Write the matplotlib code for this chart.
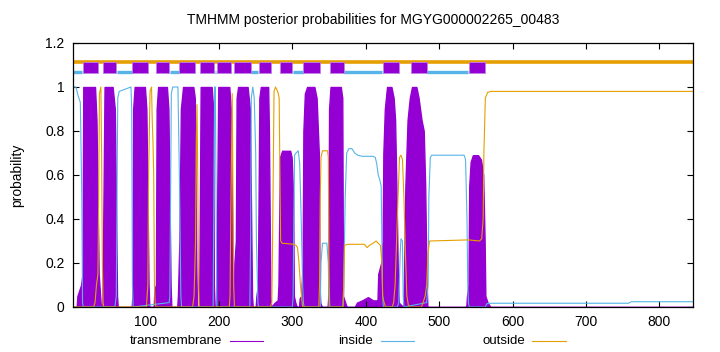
import matplotlib
matplotlib.use("Agg")
import matplotlib.pyplot as plt
from matplotlib.lines import Line2D

plt.rcParams['font.family'] = ['Liberation Sans', 'DejaVu Sans']

# sequence length and predicted topology (positions)
seq_len = 846
tm_segments = [(14, 35), (42, 60), (82, 103), (114, 132), (146, 167), (174, 193),
               (197, 216), (221, 243), (254, 271), (283, 300), (315, 337),
               (351, 370), (423, 445), (461, 483), (541, 563)]
inside_segments = [(1, 13), (61, 81), (133, 145), (194, 196), (244, 253),
                   (301, 314), (371, 422), (484, 540)]

# posterior probabilities, breakpoints
tm_pos = [1, 6, 7, 12, 14, 15, 31, 33, 36, 37, 38, 39, 41,
          42, 44, 55, 58, 61, 62, 81, 82, 83, 85, 99, 101, 104, 105,
          111, 112, 114, 115, 117, 129, 131, 134, 135,
          143, 144, 146, 148, 151, 165, 167, 169, 170,
          173, 174, 175, 190, 192, 193, 194,
          196, 197, 199, 214, 216, 219, 220,
          221, 223, 224, 226, 239, 242, 245, 246,
          250, 251, 253, 255, 257, 267, 268, 270, 271,
          276, 280, 281, 283, 286, 297, 299, 301, 302, 304, 306,
          309, 310, 312, 314, 315, 317, 320, 330, 333, 336, 337, 338, 340,
          348, 349, 350, 352, 366, 368, 369, 372, 374,
          385, 388, 395, 403, 410, 416, 417, 421, 423, 424, 426, 429, 435, 438, 440, 442, 444, 445,
          451, 452, 454, 457, 460, 463, 469, 472, 476, 479, 481, 483, 484,
          537, 538, 540, 541, 543, 546, 553, 557, 560, 562, 563, 566, 570, 846]
tm_prob = [0, 0, 0.05, 0.1, 0.15, 1.0, 1.0, 0.85, 0.15, 0.1, 0.05, 0, 0,
           0.3, 1, 1, 0.9, 0.05, 0, 0, 0.05, 0.9, 1, 1, 0.9, 0.1, 0,
           0, 0.08, 0.1, 0.9, 1, 1, 0.9, 0.1, 0,
           0, 0.05, 0.3, 0.9, 1, 1, 0.95, 0.2, 0,
           0, 0.5, 1, 1, 0.9, 0.1, 0,
           0, 0.3, 1, 1, 0.9, 0.1, 0,
           0.2, 0.3, 0.95, 1, 1, 0.9, 0.05, 0,
           0, 0.05, 0.1, 0.95, 1, 1, 0.8, 0.05, 0,
           0.02, 0.03, 0.1, 0.68, 0.71, 0.71, 0.68, 0.5, 0.05, 0.02, 0,
           0, 0.04, 0.05, 0.2, 0.8, 0.97, 1, 1, 0.95, 0.7, 0.1, 0.02, 0,
           0, 0.05, 0.9, 1, 1, 0.95, 0.05, 0.02, 0,
           0, 0.02, 0.03, 0.045, 0.03, 0.03, 0.15, 0.2, 0.3, 0.7, 0.9, 1, 1, 0.95, 0.85, 0.5, 0.1, 0.02,
           0, 0.1, 0.55, 0.85, 0.95, 1, 1, 0.95, 0.85, 0.8, 0.55, 0.1, 0,
           0, 0.05, 0.1, 0.55, 0.66, 0.69, 0.69, 0.67, 0.6, 0.3, 0.05, 0.02, 0, 0]

in_pos = [1, 5, 8, 11, 13, 14, 15,
          58, 60, 61, 62, 64, 80, 81, 82, 83,
          132, 133, 134, 135, 137, 144, 146, 148, 149,
          192, 193, 194, 195, 196, 197,
          242, 243, 244, 246, 248, 250, 251, 253, 254,
          300, 301, 302, 303, 305, 308, 310, 312, 314, 315, 316,
          338, 339, 341, 347, 349, 350,
          369, 370, 372, 374, 377, 381, 385, 389, 395, 410, 413, 415, 417, 419, 421, 422, 423, 424,
          443, 445, 447, 448, 450, 451, 452,
          483, 485, 486, 488, 490, 534, 536, 538, 539, 540, 541,
          563, 565, 570, 758, 762, 846]
in_prob = [1.0, 1.0, 0.96, 0.93, 0.5, 0.02, 0,
           0, 0.05, 0.5, 0.95, 0.98, 1.0, 0.9, 0.1, 0,
           0.02, 0.05, 0.5, 0.97, 1, 1, 0.6, 0.05, 0,
           0, 0.5, 1.0, 1.0, 0.5, 0,
           0, 0.3, 0.95, 1.0, 0.95, 0.7, 0.3, 0.02, 0,
           0, 0.05, 0.4, 0.69, 0.7, 0.71, 0.65, 0.4, 0.1, 0.02, 0,
           0, 0.2, 0.29, 0.29, 0.2, 0,
           0, 0.1, 0.5, 0.7, 0.72, 0.72, 0.7, 0.69, 0.685, 0.685, 0.68, 0.65, 0.6, 0.58, 0.55, 0.3, 0.05, 0,
           0, 0.02, 0.25, 0.31, 0.3, 0.05, 0,
           0.02, 0.1, 0.5, 0.68, 0.69, 0.69, 0.67, 0.4, 0.1, 0.02, 0,
           0, 0.015, 0.017, 0.017, 0.024, 0.024]

out_pos = [1, 29, 31, 33, 35, 36, 37, 39, 40, 41, 42, 43,
           101, 103, 104, 106, 108, 109, 110, 111, 112, 113, 114,
           164, 166, 168, 169, 170, 171, 172, 173,
           214, 215, 216, 218, 219, 220, 221,
           270, 272, 273, 275, 277, 280, 282, 283, 284, 286, 302, 305, 307, 309, 311, 313, 314,
           336, 337, 338, 339, 341, 348, 349, 350, 351,
           369, 370, 371, 375, 398, 402, 405, 410, 414, 417, 420, 422, 423, 425, 427,
           436, 438, 440, 442, 444, 446, 448, 450, 452, 454, 456, 458, 460,
           476, 478, 481, 483, 485, 487, 540, 555, 558, 560, 561, 563, 566, 570, 846]
out_prob = [0, 0, 0.02, 0.1, 0.15, 0.5, 0.97, 1.0, 0.7, 0.2, 0.02, 0,
            0, 0.1, 0.6, 0.98, 1.0, 0.85, 0.75, 0.6, 0.1, 0.02, 0,
            0, 0.05, 0.3, 0.75, 0.92, 0.6, 0.1, 0,
            0, 0.05, 0.4, 0.97, 0.5, 0.1, 0,
            0, 0.02, 0.3, 0.98, 1.0, 0.98, 0.95, 0.6, 0.3, 0.29, 0.285, 0.28, 0.27, 0.2, 0.1, 0.03, 0,
            0, 0.1, 0.5, 0.68, 0.71, 0.71, 0.68, 0.1, 0,
            0, 0.1, 0.28, 0.285, 0.285, 0.27, 0.28, 0.29, 0.3, 0.29, 0.28, 0.2, 0.05, 0.02, 0,
            0, 0.02, 0.1, 0.3, 0.5, 0.68, 0.69, 0.67, 0.5, 0.25, 0.05, 0.01, 0,
            0, 0.02, 0.05, 0.1, 0.25, 0.3, 0.305, 0.3, 0.31, 0.4, 0.7, 0.95, 0.975, 0.98, 0.98]

c_tm = '#9400D3'
c_in = '#56B4E9'
c_out = '#E69F00'

fig = plt.figure(figsize=(7.2, 3.52), dpi=100)
ax = fig.add_axes([73 / 720, 1 - 307 / 352, 620 / 720, 264 / 352])

ax.fill_between(tm_pos, 0, tm_prob, color=c_tm, lw=1.0, edgecolor=c_tm)
ax.plot(in_pos, in_prob, color=c_in, lw=0.8)
ax.plot(out_pos, out_prob, color=c_out, lw=0.8)

# topology band on top
ax.hlines(1.115, 1, seq_len, color=c_out, lw=2.6)
for a, b in inside_segments:
    ax.hlines(1.068, a, b, color=c_in, lw=2.4)
ax.broken_barh([(a, b - a) for a, b in tm_segments], (1.062, 0.05),
               facecolor=c_tm, edgecolor='#c080e8', lw=0.6, zorder=5)

ax.set_xlim(1, seq_len)
ax.set_ylim(0, 1.2)
ax.set_xticks([100, 200, 300, 400, 500, 600, 700, 800])
ax.set_yticks([0, 0.2, 0.4, 0.6, 0.8, 1.0, 1.2])
ax.set_yticklabels(['0', '0.2', '0.4', '0.6', '0.8', '1', '1.2'])
ax.tick_params(direction='in', length=4, width=0.8, labelsize=10,
               top=True, right=True, pad=6)
for s in ax.spines.values():
    s.set_linewidth(0.9)

ax.set_ylabel('probability', fontsize=10, labelpad=15)
fig.text(0.5 + 13 / 720, 1 - 20 / 352, 'TMHMM posterior probabilities for MGYG000002265_00483',
         ha='center', va='center', fontsize=10)

# legend (gnuplot style: text then sample line)
leg = [('transmembrane', c_tm, 222, 230, 263),
       ('inside', c_in, 373, 381, 414),
       ('outside', c_out, 525, 532, 566)]
for label, col, xt, x0, x1 in leg:
    fig.text(xt / 720, 1 - 341 / 352, label, ha='right', va='center', fontsize=9.5)
    fig.add_artist(Line2D([x0 / 720, x1 / 720], [1 - 341 / 352] * 2, color=col, lw=0.8))

fig.savefig('out.png', dpi=100)
